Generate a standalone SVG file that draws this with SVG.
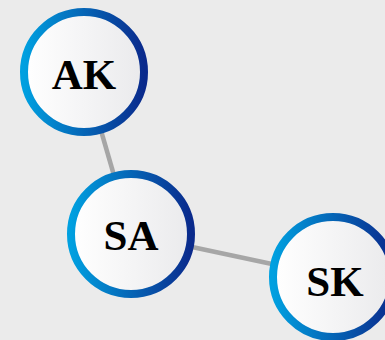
<svg xmlns="http://www.w3.org/2000/svg" width="385" height="340" viewBox="0 0 385 340">
<defs>
<linearGradient id="ring" x1="0" y1="0" x2="1" y2="0">
<stop offset="0" stop-color="#00a0e0"/>
<stop offset="1" stop-color="#0a2a8c"/>
</linearGradient>
<linearGradient id="fill" x1="0" y1="0" x2="1" y2="0">
<stop offset="0" stop-color="#ffffff"/>
<stop offset="1" stop-color="#eaeaec"/>
</linearGradient>
</defs>
<style>
.node circle{fill:url(#fill);stroke:url(#ring);stroke-width:8}
.node text{font-family:"Liberation Serif","Times New Roman",serif;font-weight:bold;font-size:43px;fill:#000;text-anchor:middle}
.edge{stroke:#a6a6a6;stroke-width:4.5;fill:none}
</style>
<rect width="385" height="340" fill="#ebebeb"/>
<g id="connectors">
<line class="edge" x1="84" y1="72" x2="131" y2="234"/>
<line class="edge" x1="131" y1="234" x2="333" y2="277"/>
</g>
<g id="node-AK" class="node">
<circle cx="84" cy="72" r="60"/>
<text x="84" y="89">AK</text>
</g>
<g id="node-SA" class="node">
<circle cx="131" cy="234" r="60"/>
<text x="131" y="250">SA</text>
</g>
<g id="node-SK" class="node">
<circle cx="333" cy="277" r="60"/>
<text x="335" y="296">SK</text>
</g>
</svg>
